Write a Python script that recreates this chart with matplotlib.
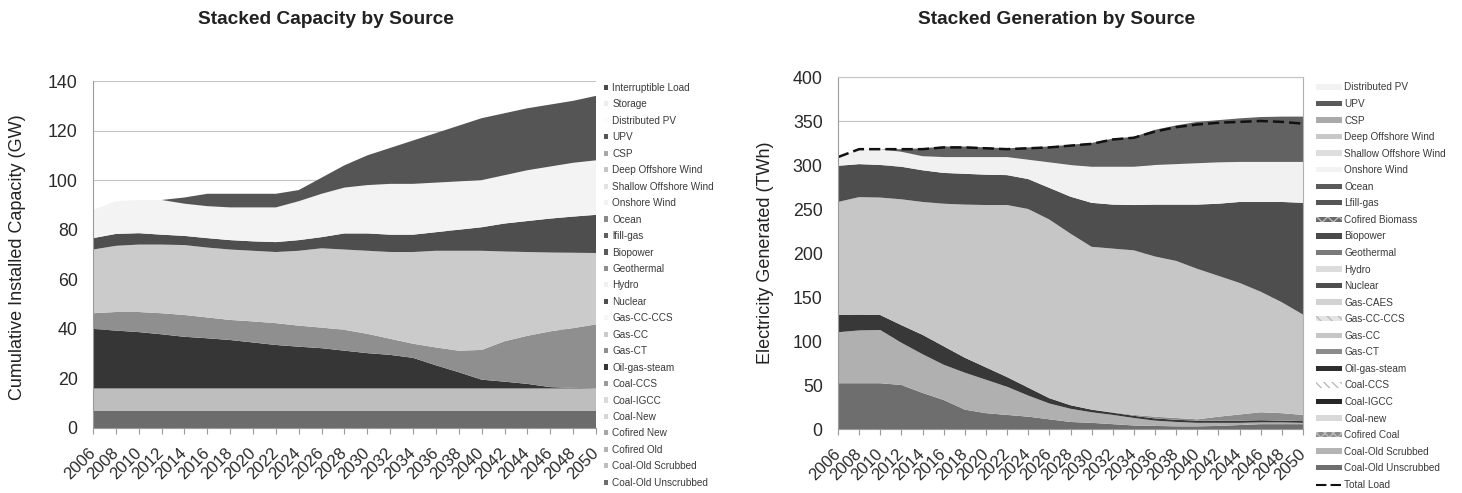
import matplotlib
matplotlib.use("Agg")
import matplotlib.pyplot as plt
from matplotlib.patches import Patch
from matplotlib.lines import Line2D

plt.rcParams['font.family'] = ['Liberation Sans', 'DejaVu Sans']

# ---------------------------------------------------------------- data
years = [2006, 2008, 2010, 2012, 2014, 2016, 2018, 2020, 2022, 2024, 2026, 2028,
         2030, 2032, 2034, 2036, 2038, 2040, 2042, 2044, 2046, 2048, 2050]
year_labels = [str(y) for y in years]

cap_yticks = [0, 20, 40, 60, 80, 100, 120, 140]
gen_yticks = [0, 50, 100, 150, 200, 250, 300, 350, 400]

# Installed capacity (GW)
cap_coal_old_unscrubbed = [7, 7, 7, 7, 7, 7, 7, 7, 7, 7, 7, 7, 7, 7, 7, 7, 7, 7, 7, 7, 7, 7, 7]
cap_coal_old_scrubbed = [9, 9, 9, 9, 9, 9, 9, 9, 9, 9, 9, 9, 9, 9, 9, 9, 9, 9, 9, 9, 9, 9, 9]
cap_oil_gas_steam = [24, 23.3, 22.7, 21.8, 20.8, 20.2, 19.5, 18.5, 17.5, 16.8, 16.2, 15.2,
                     14.2, 13.5, 12.3, 9.3, 6.5, 3.5, 2.7, 1.8, 0.5, 0.2, 0]
cap_gas_ct = [6.3, 7.5, 8.1, 8.5, 8.8, 8.4, 8.1, 8.5, 8.8, 8.5, 8.3, 8.4,
              7.8, 6.5, 5.7, 7.2, 8.7, 12.0, 16.3, 19.4, 22.5, 24.1, 25.8]
cap_gas_cc = [25.7, 26.7, 27.2, 27.7, 28.2, 28.2, 28.4, 28.5, 28.7, 30.2, 32.0, 32.4,
              33.5, 35.0, 37.0, 39.0, 40.3, 40.0, 36.2, 33.8, 31.8, 30.4, 28.8]
cap_nuclear = [4.6, 4.8, 4.6, 4.0, 3.7, 3.8, 3.8, 3.8, 4.0, 4.3, 4.5, 6.5,
               7.0, 7.0, 7.0, 7.5, 8.5, 9.5, 11.3, 12.5, 13.7, 14.6, 15.4]
cap_onshore_wind = [11.4, 13.2, 13.4, 14.0, 13.0, 12.9, 13.2, 13.7, 14.0, 15.7, 17.5, 18.5,
                    19.5, 20.5, 20.5, 20.0, 19.5, 19.0, 19.5, 20.5, 21.0, 21.7, 22.0]
cap_upv = [0, 0, 0, 0, 2.5, 5.0, 5.5, 5.5, 5.5, 4.5, 6.5, 9.0,
           12.0, 14.5, 17.5, 20.0, 22.5, 25.0, 25.0, 25.0, 25.0, 25.0, 26.0]

# Generation (TWh)
gen_coal_old_unscrubbed = [52, 52, 52, 50, 41, 33, 22, 18, 16, 14, 11, 8,
                           7, 5.5, 4, 3.5, 3, 3, 3.5, 4.5, 5.5, 5.5, 5.5]
gen_coal_old_scrubbed = [58, 60, 60.5, 48, 44, 40, 42, 38, 32, 24, 18, 15,
                         12, 10.5, 8.5, 6, 5, 4, 3.5, 2.5, 2, 2, 1.5]
gen_oil_gas_steam = [19.5, 18, 17, 20, 22, 21, 17, 14, 11, 9, 6, 4,
                     3, 2.5, 2.5, 2.5, 2.5, 2.5, 2.5, 2.5, 2.5, 2, 2]
gen_gas_ct = [0, 0, 0, 0, 0, 0, 0, 0, 0, 0, 0, 0,
              0, 0.5, 1, 2, 2, 1.5, 4.5, 7, 9, 8.5, 7]
gen_gas_cc = [128.5, 133.5, 133.5, 143, 151, 162, 174, 184.5, 195.5, 203, 203, 195,
              185, 186, 187, 182, 178.5, 171, 160, 149.5, 137, 126, 114]
gen_nuclear = [41, 37.5, 37, 37, 36, 35, 35, 34.5, 34, 34, 36, 42,
               50, 50, 51.5, 59, 64, 73, 82, 92, 102, 114, 127]
gen_onshore_wind = [10, 17, 18, 17, 16, 18, 19, 20, 20.5, 22, 29, 36,
                    41, 43, 43.5, 45, 46, 47, 47, 45.5, 45.5, 45.5, 46.5]
gen_upv = [0, 0, 0, 3, 9, 12, 12, 11, 10, 14, 18, 23,
           27, 32, 34, 40, 44, 47, 48, 49.5, 51, 51.5, 51.5]
gen_total_load = [309, 318, 318, 318, 318, 320, 320, 319, 318, 319, 320, 322,
                  324, 329, 331, 338, 343, 346, 348, 349, 350, 349, 347]

# Legend entries (top to bottom) with their fill shades
cap_legend_labels = ["Interruptible Load", "Storage", "Distributed PV", "UPV", "CSP",
                     "Deep Offshore Wind", "Shallow Offshore Wind", "Onshore Wind", "Ocean",
                     "lfill-gas", "Biopower", "Geothermal", "Hydro", "Nuclear", "Gas-CC-CCS",
                     "Gas-CC", "Gas-CT", "Oil-gas-steam", "Coal-CCS", "Coal-IGCC", "Coal-New",
                     "Cofired New", "Cofired Old", "Coal-Old Scrubbed", "Coal-Old Unscrubbed"]
cap_legend_colors = ["#4a4a4a", "#ececec", "#fbfbfb", "#555555", "#a8a8a8",
                     "#c6c6c6", "#e2e2e2", "#f3f3f3", "#8a8a8a",
                     "#5e5e5e", "#5a5a5a", "#8e8e8e", "#f0f0f0", "#4e4e4e", "#f6f6f6",
                     "#cbcbcb", "#8f8f8f", "#363636", "#9a9a9a", "#dadada", "#d6d6d6",
                     "#a6a6a6", "#b2b2b2", "#bebebe", "#6c6c6c"]

gen_legend_labels = ["Distributed PV", "UPV", "CSP", "Deep Offshore Wind",
                     "Shallow Offshore Wind", "Onshore Wind", "Ocean", "Lfill-gas",
                     "Cofired Biomass", "Biopower", "Geothermal", "Hydro", "Nuclear",
                     "Gas-CAES", "Gas-CC-CCS", "Gas-CC", "Gas-CT", "Oil-gas-steam",
                     "Coal-CCS", "Coal-IGCC", "Coal-new", "Cofired Coal",
                     "Coal-Old Scrubbed", "Coal-Old Unscrubbed"]
gen_legend_colors = ["#f2f2f2", "#5a5a5a", "#aaaaaa", "#c8c8c8",
                     "#dedede", "#f3f3f3", "#5a5a5a", "#555555",
                     "#6a6a6a", "#4a4a4a", "#7a7a7a", "#dcdcdc", "#4e4e4e",
                     "#d2d2d2", "#e4e4e4", "#c6c6c6", "#8c8c8c", "#2e2e2e",
                     "#ffffff", "#262626", "#d8d8d8", "#8a8a8a",
                     "#b4b4b4", "#6e6e6e"]
gen_legend_hatches = {"Coal-CCS": "\\\\\\\\", "Cofired Coal": "xxxx",
                      "Gas-CC-CCS": "\\\\\\", "Cofired Biomass": "xxx"}

# Stacking order (bottom to top) for each chart
capacity = [("Coal-Old Unscrubbed", cap_coal_old_unscrubbed),
            ("Coal-Old Scrubbed", cap_coal_old_scrubbed),
            ("Oil-gas-steam", cap_oil_gas_steam),
            ("Gas-CT", cap_gas_ct),
            ("Gas-CC", cap_gas_cc),
            ("Nuclear", cap_nuclear),
            ("Onshore Wind", cap_onshore_wind),
            ("UPV", cap_upv)]
generation = [("Coal-Old Unscrubbed", gen_coal_old_unscrubbed),
              ("Coal-Old Scrubbed", gen_coal_old_scrubbed),
              ("Oil-gas-steam", gen_oil_gas_steam),
              ("Gas-CT", gen_gas_ct),
              ("Gas-CC", gen_gas_cc),
              ("Nuclear", gen_nuclear),
              ("Onshore Wind", gen_onshore_wind),
              ("UPV", gen_upv)]

# ---------------------------------------------------------------- figure
W, H = 1462, 493
fig = plt.figure(figsize=(W / 100, H / 100), dpi=100)
fig.patch.set_facecolor("white")

ax1 = fig.add_axes([93 / W, 1 - 428 / H, 503 / W, 347 / H])
ax2 = fig.add_axes([838 / W, 1 - 429 / H, 465 / W, 352 / H])

cap_color = dict(zip(cap_legend_labels, cap_legend_colors))
gen_color = dict(zip(gen_legend_labels, gen_legend_colors))
# area fills in the generation chart use slightly different shades
gen_fill = dict(gen_color)
gen_fill.update({"Coal-Old Scrubbed": "#b0b0b0", "Gas-CC": "#c6c6c6",
                 "Oil-gas-steam": "#383838", "Onshore Wind": "#f1f1f1",
                 "UPV": "#626262"})

ax1.stackplot(years, [v for _, v in capacity],
              colors=[cap_color[n] for n, _ in capacity], linewidth=0)
ax2.stackplot(years, [v for _, v in generation],
              colors=[gen_fill[n] for n, _ in generation], linewidth=0)
ax2.plot(years, gen_total_load, color="#111111", lw=1.8, dashes=(4.5, 2.0))

tick_color = "#2a2a2a"
for ax, yt in ((ax1, cap_yticks), (ax2, gen_yticks)):
    ax.set_xlim(years[0], years[-1])
    ax.set_ylim(yt[0], yt[-1])
    ax.set_yticks(yt)
    ax.set_yticklabels([str(t) for t in yt], fontsize=12.8, color=tick_color)
    ax.set_xticks(years)
    ax.set_xticklabels(year_labels, rotation=45, ha="right", va="center",
                       rotation_mode="anchor", fontsize=12, color=tick_color)
    ax.tick_params(axis="y", length=0, pad=11)
    ax.tick_params(axis="x", length=4, width=0.8, color="#9a9a9a", direction="out", pad=12)
    ax.yaxis.grid(True, color="#c4c4c4", lw=0.8)
    ax.set_axisbelow(True)
    for s in ax.spines.values():
        s.set_color("#9a9a9a")
        s.set_linewidth(0.8)

ax1.spines["top"].set_visible(False)
ax1.spines["right"].set_visible(False)
ax2.spines["top"].set_color("#c4c4c4")
ax2.spines["right"].set_color("#b0b0b0")

# titles and axis labels
fig.text(326 / W, 1 - 20 / H, "Stacked Capacity by Source", ha="center", va="center",
         fontsize=13.8, fontweight="bold", color="#222222")
fig.text(1057 / W, 1 - 20 / H, "Stacked Generation by Source", ha="center", va="center",
         fontsize=13.8, fontweight="bold", color="#222222")
fig.text(18 / W, 1 - 257 / H, "Cumulative Installed Capacity (GW)", rotation=90,
         ha="center", va="center", fontsize=13, color="#222222")
fig.text(765 / W, 1 - 253 / H, "Electricity Generated (TWh)", rotation=90,
         ha="center", va="center", fontsize=13, color="#222222")

# legends
cap_handles = [Patch(facecolor=c, edgecolor="none") for c in cap_legend_colors]
fig.legend(cap_handles, cap_legend_labels, loc="upper left",
           bbox_to_anchor=(604 / W, 1 - 83 / H), frameon=False, fontsize=7.2,
           handlelength=0.42, handleheight=0.42, handletextpad=0.4,
           labelspacing=0.645, borderpad=0, borderaxespad=0, labelcolor="#3a3a3a")

gen_handles = [Patch(facecolor=c, edgecolor="#bbbbbb" if n in gen_legend_hatches else "none",
                     hatch=gen_legend_hatches.get(n), lw=0)
               for n, c in zip(gen_legend_labels, gen_legend_colors)]
gen_handles.append(Line2D([], [], color="#111111", lw=1.5, dashes=(5, 2)))
gen_labels = gen_legend_labels + ["Total Load"]
fig.legend(gen_handles, gen_labels, loc="upper left",
           bbox_to_anchor=(1316 / W, 1 - 82.5 / H), frameon=False, fontsize=7.2,
           handlelength=2.55, handleheight=0.45, handletextpad=0.3,
           labelspacing=0.655, borderpad=0, borderaxespad=0, labelcolor="#3a3a3a")

fig.savefig("out.png", dpi=100, facecolor="white")
